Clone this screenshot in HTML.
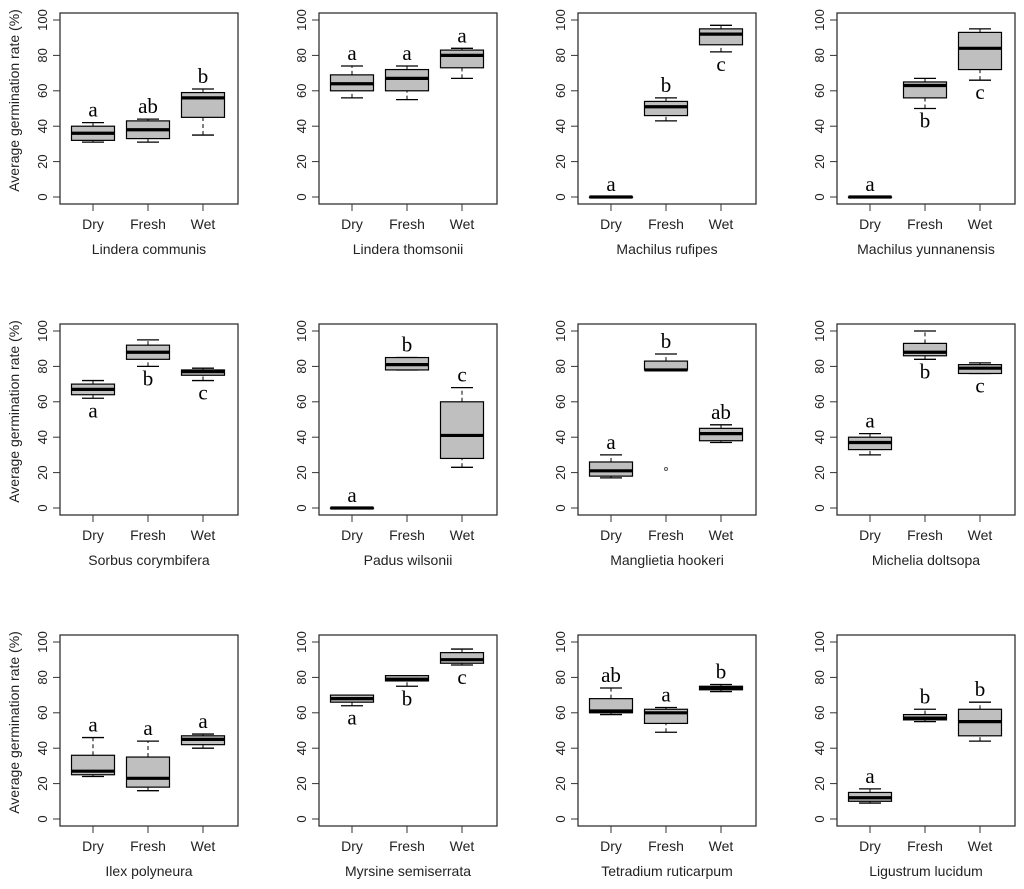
<!DOCTYPE html>
<html><head><meta charset="utf-8"><style>
body{margin:0;background:#fff}
svg{display:block}
text{font-family:"Liberation Sans",sans-serif;fill:#222}
.let{font-family:"Liberation Serif",serif;font-size:21px;fill:#000}
</style></head><body>
<svg id="chart" width="1024" height="889" viewBox="0 0 1024 889" xmlns="http://www.w3.org/2000/svg"></svg>
<script>
const species = ["Lindera communis","Lindera thomsonii","Machilus rufipes","Machilus yunnanensis","Sorbus corymbifera","Padus wilsonii","Manglietia hookeri","Michelia doltsopa","Ilex polyneura","Myrsine semiserrata","Tetradium ruticarpum","Ligustrum lucidum"];
const treatments = ["Dry","Fresh","Wet"];
const yTicks = [0,20,40,60,80,100];
// each: [lowWhisker, q1, median, q3, highWhisker] per treatment
const boxDry = [[31,32,36,40,42],[56,60,64,69,74],[0,0,0,0,0],[0,0,0,0,0],[62,64,67,70,72],[0,0,0,0,0],[17,18,21,26,30],[30,33,37,40,42],[24,25,27,36,46],[64,66,68,70,70],[59,60,61,68,74],[9,10,12,15,17]];
const boxFresh = [[31,33,38,43,44],[55,60,67,72,74],[43,46,51,54,56],[50,56,63,65,67],[80,84,88,92,95],[78,78,81,85,85],[78,78,78,83,87],[84,86,88,93,100],[16,18,23,35,44],[75,78,79,81,81],[49,54,60,62,63],[55,56,57,59,62]];
const boxWet = [[35,45,56,59,61],[67,73,80,83,84],[82,86,92,95,97],[66,72,84,93,95],[72,75,77,78,79],[23,28,41,60,68],[37,38,42,45,47],[76,76,79,81,82],[40,42,45,47,48],[87,88,90,94,96],[72,73,74,75,76],[44,47,55,62,66]];
const outliersFresh = [[],[],[],[],[],[],[22],[],[],[],[],[]];
const letters = [["a","ab","b"],["a","a","a"],["a","b","c"],["a","b","c"],["a","b","c"],["a","b","c"],["a","b","ab"],["a","b","c"],["a","a","a"],["a","b","c"],["ab","a","b"],["a","b","b"]];
const letterPos = [["u","u","u"],["u","u","u"],["u","u","d"],["u","d","d"],["d","d","d"],["u","u","u"],["u","u","u"],["u","d","d"],["u","u","u"],["d","d","d"],["u","u","u"],["u","u","u"]];

const svg = document.getElementById('chart');
const NS = "http://www.w3.org/2000/svg";
function mk(tag, attrs, parent){const e=document.createElementNS(NS,tag);for(const k in attrs)e.setAttribute(k,attrs[k]);parent.appendChild(e);return e;}

species.forEach((sp,i)=>{
  const col=i%4,row=Math.floor(i/4);
  const L=60+col*259,R=L+178,T=13+row*311,B=204+row*311;
  const y0=197+row*311,y100=20+row*311;
  const ys=v=>y0-(y0-y100)*v/100;
  const xc=k=>L+33+k*55;
  const g=mk('g',{},svg);
  
  
  const fr=mk('rect',{x:L,y:T,width:R-L,height:B-T,fill:'none',stroke:'#333','stroke-width':1.3},g);
  
  
  yTicks.forEach(t=>{
    mk('line',{x1:L-7,x2:L,y1:ys(t),y2:ys(t),stroke:'#333'},g);
    const tx=mk('text',{x:L-13,y:ys(t),'font-size':13,'text-anchor':'middle',transform:`rotate(-90 ${L-13} ${ys(t)})`},g);
    tx.textContent=t;
    
    
  });
  const sets=[boxDry[i],boxFresh[i],boxWet[i]];
  sets.forEach((b,k)=>{
    const x=xc(k),hw=21.5,cw=11;
    mk('line',{x1:x,x2:x,y1:B,y2:B+7,stroke:'#333'},g);
    const tl=mk('text',{x:x,y:B+25,'font-size':14,'text-anchor':'middle'},g);
    tl.textContent=treatments[k];
    
    
    const bg=mk('g',{},g);
    
    
    mk('line',{x1:x,x2:x,y1:ys(b[0]),y2:ys(b[1]),stroke:'#000','stroke-dasharray':'4,3'},bg);
    mk('line',{x1:x,x2:x,y1:ys(b[3]),y2:ys(b[4]),stroke:'#000','stroke-dasharray':'4,3'},bg);
    mk('line',{x1:x-cw,x2:x+cw,y1:ys(b[0]),y2:ys(b[0]),stroke:'#000','stroke-width':1.3},bg);
    mk('line',{x1:x-cw,x2:x+cw,y1:ys(b[4]),y2:ys(b[4]),stroke:'#000','stroke-width':1.3},bg);
    mk('rect',{x:x-hw,y:ys(b[3]),width:2*hw,height:Math.max(0.5,ys(b[1])-ys(b[3])),fill:'#bfbfbf',stroke:'#000','stroke-width':1.2},bg);
    mk('line',{x1:x-hw,x2:x+hw,y1:ys(b[2]),y2:ys(b[2]),stroke:'#000','stroke-width':3.2},bg);
    if(k===1) outliersFresh[i].forEach(o=>{
      const c=mk('circle',{cx:x,cy:ys(o),r:1.5,fill:'none',stroke:'#555'},bg);
      
      
    });
    const up=letterPos[i][k]==='u';
    const ly=up?ys(b[4])-6:ys(b[0])+19;
    const lt=mk('text',{x:x,y:ly,'text-anchor':'middle',class:'let'},g);
    lt.textContent=letters[i][k];
    
    
  });
  const ti=mk('text',{x:(L+R)/2,y:B+50,'font-size':14,'text-anchor':'middle'},g);
  ti.textContent=sp;
  
  
  if(col===0){
    const cy=(y0+y100)/2-8;
    const yl=mk('text',{x:19,y:cy,'font-size':14,'text-anchor':'middle',transform:`rotate(-90 19 ${cy})`},g);
    yl.textContent='Average germination rate (%)';
    
    
  }
});
</script>
</body></html>
